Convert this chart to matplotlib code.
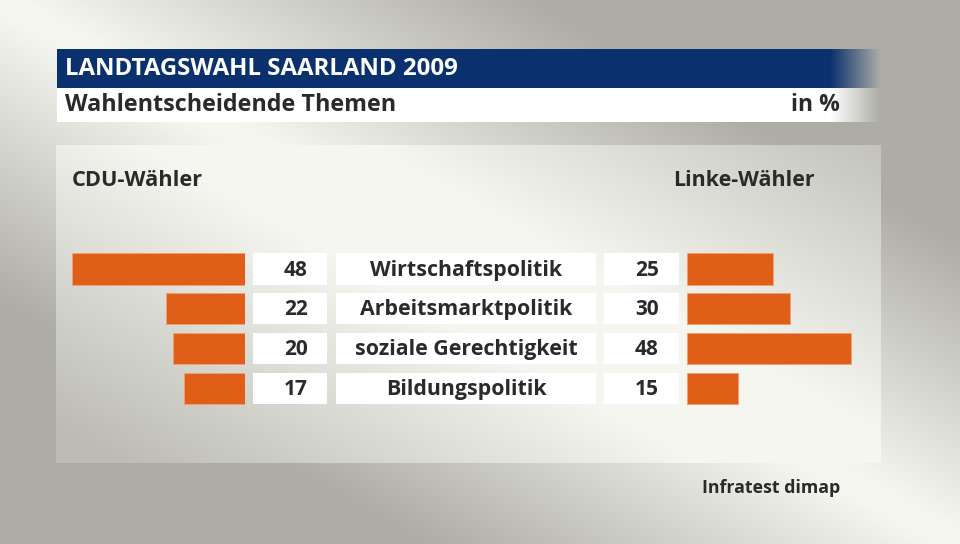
import numpy as np
import matplotlib
matplotlib.use("Agg")
import matplotlib.pyplot as plt

# ---- data ----
categories = ["Wirtschaftspolitik", "Arbeitsmarktpolitik", "soziale Gerechtigkeit", "Bildungspolitik"]
cdu_values = [48, 22, 20, 17]
linke_values = [25, 30, 48, 15]
title = "LANDTAGSWAHL SAARLAND 2009"
subtitle = "Wahlentscheidende Themen"
unit = "in %"
left_header = "CDU-Wähler"
right_header = "Linke-Wähler"
source = "Infratest dimap"

W, H = 960, 544
plt.rcParams['font.family'] = ['Open Sans', 'DejaVu Sans']
fig = plt.figure(figsize=(W / 100, H / 100), dpi=100)

# ---- background (pixel coordinates) ----
bg = fig.add_axes([0, 0, 1, 1])
bg.axis("off")

light = np.array([0.965, 0.965, 0.947])
grey = np.array([0.682, 0.682, 0.651])
yy, xx = np.mgrid[0:H, 0:W].astype(float)
d = np.abs(xx / W - yy / H)
t_out = np.clip((d - 0.02) / 0.53, 0, 1)
img = light * (1 - t_out[..., None]) + grey * t_out[..., None]
t_in = np.clip((d - 0.12) / 0.6, 0, 1) * 0.8
inner = light * (1 - t_in[..., None]) + grey * t_in[..., None]
mask = (xx >= 56) & (xx <= 880) & (yy >= 145) & (yy <= 462)
img[mask] = inner[mask]
bg.imshow(img, extent=(0, W, H, 0), aspect="auto", zorder=0)

# title bar with right fade
blue = np.array([0.04, 0.19, 0.43])
xs = np.arange(57, 880)
f = np.clip((880 - xs) / 50.0, 0, 1)
bar_img = np.zeros((1, len(xs), 4))
bar_img[..., :3] = blue
bar_img[0, :, 3] = f
bg.imshow(bar_img, extent=(57, 880, 88, 49), aspect="auto", zorder=1)
white_img = np.ones((1, len(xs), 4))
white_img[0, :, 3] = f
bg.imshow(white_img, extent=(57, 880, 122, 88), aspect="auto", zorder=1)
bg.set_xlim(0, W)
bg.set_ylim(H, 0)

txt = "#2a2a2a"
bg.text(65, 69, title, color="white", fontsize=17.3, fontweight="bold", va="center", ha="left", zorder=3)
bg.text(65, 105, subtitle, color=txt, fontsize=16.8, fontweight="bold", va="center", ha="left", zorder=3)
bg.text(840, 105, unit, color=txt, fontsize=16.5, fontweight="bold", va="center", ha="right", zorder=3)
bg.text(72, 180, left_header, color=txt, fontsize=15.7, fontweight="bold", va="center", ha="left", zorder=3)
bg.text(815, 180, right_header, color=txt, fontsize=15.5, fontweight="bold", va="center", ha="right", zorder=3)
bg.text(840, 488, source, color=txt, fontsize=12.8, fontweight="bold", va="center", ha="right", zorder=3)

# ---- bar axes ----
orange = "#e05f18"
row_top, row_bot = 249.1, 408.3
ax_b = 1 - row_bot / H
ax_h = (row_bot - row_top) / H
n = len(categories)
ypos = np.arange(n)
bh = 0.78

# left (CDU)
axL = fig.add_axes([0, ax_b, 245 / W, ax_h])
axL.patch.set_alpha(0)
axL.barh(ypos, cdu_values, height=bh, color=orange, edgecolor="#f0a070", linewidth=0.6)
axL.set_xlim(245 / 3.6, 0)
axL.set_ylim(n - 0.5, -0.5)
axL.axis("off")

# right (Linke)
axR = fig.add_axes([687 / W, ax_b, (W - 687) / W, ax_h])
axR.patch.set_alpha(0)
axR.barh(ypos, linke_values, height=bh, color=orange, edgecolor="#f0a070", linewidth=0.6)
axR.set_xlim(0, (W - 687) / 3.42)
axR.set_ylim(n - 0.5, -0.5)
axR.axis("off")

# center boxes + labels
axC = fig.add_axes([245 / W, ax_b, (687 - 245) / W, ax_h])
axC.patch.set_alpha(0)
axC.set_xlim(245, 687)
axC.set_ylim(n - 0.5, -0.5)
axC.axis("off")
axC.barh(ypos, 74, left=253, height=bh, color="white")
axC.barh(ypos, 260, left=336, height=bh, color="white")
axC.barh(ypos, 75, left=604, height=bh, color="white")
for i in range(n):
    axC.text(296, i + 0.03, str(cdu_values[i]), ha="center", va="center", fontsize=15,
             fontweight="bold", color=txt)
    axC.text(466, i + 0.03, categories[i], ha="center", va="center", fontsize=15.4,
             fontweight="bold", color=txt)
    axC.text(647, i + 0.03, str(linke_values[i]), ha="center", va="center", fontsize=15,
             fontweight="bold", color=txt)

fig.savefig("out.png", dpi=100)
